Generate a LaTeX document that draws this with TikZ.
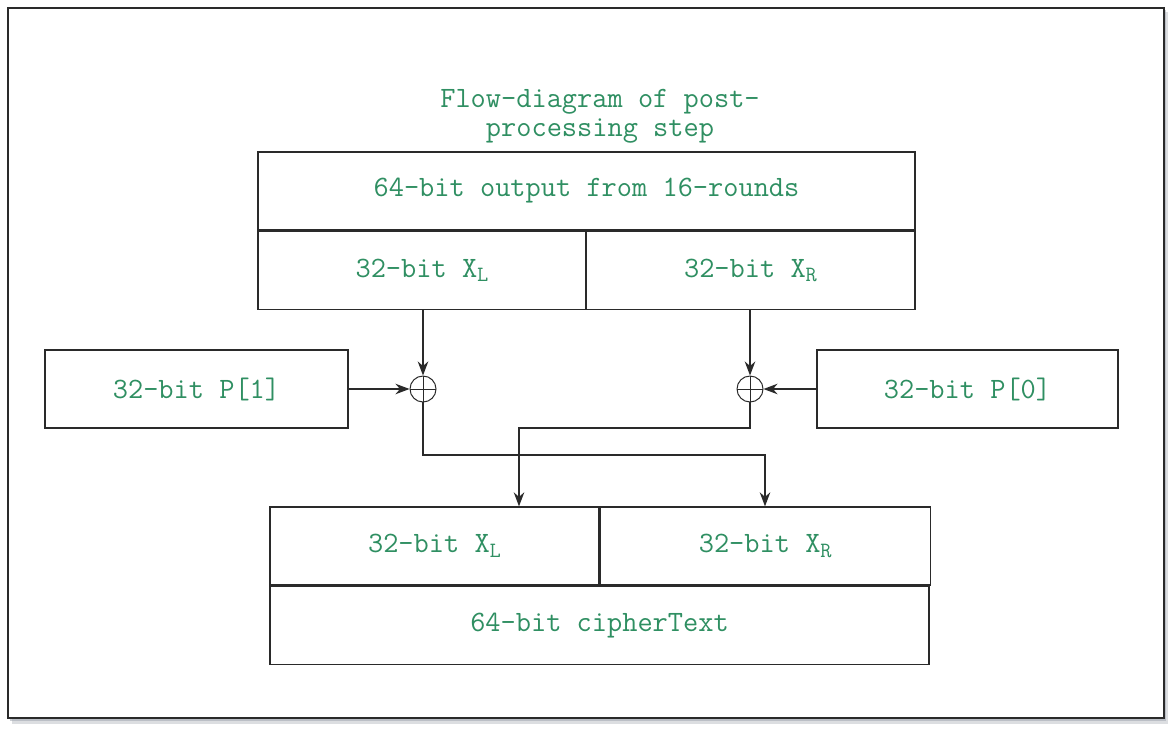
\documentclass[tikz,border=0pt]{standalone}
\usepackage{fontspec}
\usepackage{tikz}
\usetikzlibrary{arrows.meta,positioning}
\definecolor{flowgreen}{HTML}{2F8F62}
\definecolor{flowline}{HTML}{2A2A2A}
\definecolor{flowshadow}{HTML}{9AA0AA}
\newcommand{\pxu}{0.025cm}
\newcommand{\halfsub}[1]{\raisebox{-0.35ex}{\fontsize{15.5}{16}\selectfont #1}}

\tikzset{
  cell/.style={draw=flowline, line width=0.9pt, inner sep=0pt,
    minimum height=78*\pxu, font=\ttfamily\fontsize{21}{24}\selectfont,
    text=flowgreen},
  xorgate/.style={draw=flowline, circle, line width=0.7pt, minimum size=26*\pxu,
    inner sep=0pt,
    path picture={\draw[flowline, line width=0.6pt]
      (path picture bounding box.north) -- (path picture bounding box.south)
      (path picture bounding box.west) -- (path picture bounding box.east);}},
  link/.style={draw=flowline, line width=0.9pt},
  arrowlink/.style={link, -{Stealth[length=10pt,width=7.5pt]}}
}

\begin{document}
\begin{tikzpicture}[x=\pxu, y=-\pxu]
  \useasboundingbox (0,0) rectangle (1168,729);
  % frame with shadow
  \fill[flowshadow, opacity=0.35] (12,12) rectangle (1168,724);
  \fill[flowshadow, opacity=0.5] (10,10) rectangle (1166,721);
  \draw[fill=white, draw=flowline, line width=0.8pt] (8,8) rectangle (1164,718);

  % title
  \node[text=flowgreen, align=center,
    font=\ttfamily\fontsize{21}{20.6}\selectfont] (title) at (600,116)
    {Flow-diagram of post-\\processing step};

  % 16-round output block
  \node[cell, minimum width=657*\pxu] (outfull) at (586.5,191)
    {64-bit output from 16-rounds};
  \node[cell, minimum width=328*\pxu, anchor=north west] (outL)
    at (outfull.south west) {32-bit X\halfsub{L}};
  \node[cell, minimum width=329*\pxu, anchor=north east] (outR)
    at (outfull.south east) {32-bit X\halfsub{R}};

  % subkeys
  \node[cell, minimum width=303*\pxu] (pone) at (196.5,389) {32-bit P[1]};
  \node[cell, minimum width=301*\pxu] (pzero) at (967.5,389) {32-bit P[0]};

  % xor gates
  \node[xorgate] (xorL) at (423,389) {};
  \node[xorgate] (xorR) at (750,389) {};

  % cipher text block
  \node[cell, minimum width=329*\pxu] (cipL) at (434.5,546)
    {32-bit X\halfsub{L}};
  \node[cell, minimum width=330*\pxu, anchor=west] (cipR) at (cipL.east)
    {32-bit X\halfsub{R}};
  \node[cell, minimum width=659*\pxu, anchor=north west] (cipfull)
    at (cipL.south west) {64-bit cipherText};

  % connectors
  \draw[arrowlink] (outL.south -| xorL) -- (xorL.north);
  \draw[arrowlink] (outR.south -| xorR) -- (xorR.north);
  \draw[arrowlink] (pone.east) -- (xorL.west);
  \draw[arrowlink] (pzero.west) -- (xorR.east);
  \coordinate (swapL) at (423,455);
  \coordinate (swapR) at (750,428);
  \coordinate (dropR) at (765,0);
  \coordinate (dropL) at (519,0);
  \draw[arrowlink] (xorL.south) -- (swapL) -| (cipR.north -| dropR);
  \draw[arrowlink] (xorR.south) -- (swapR) -| (cipL.north -| dropL);
\end{tikzpicture}
\end{document}
